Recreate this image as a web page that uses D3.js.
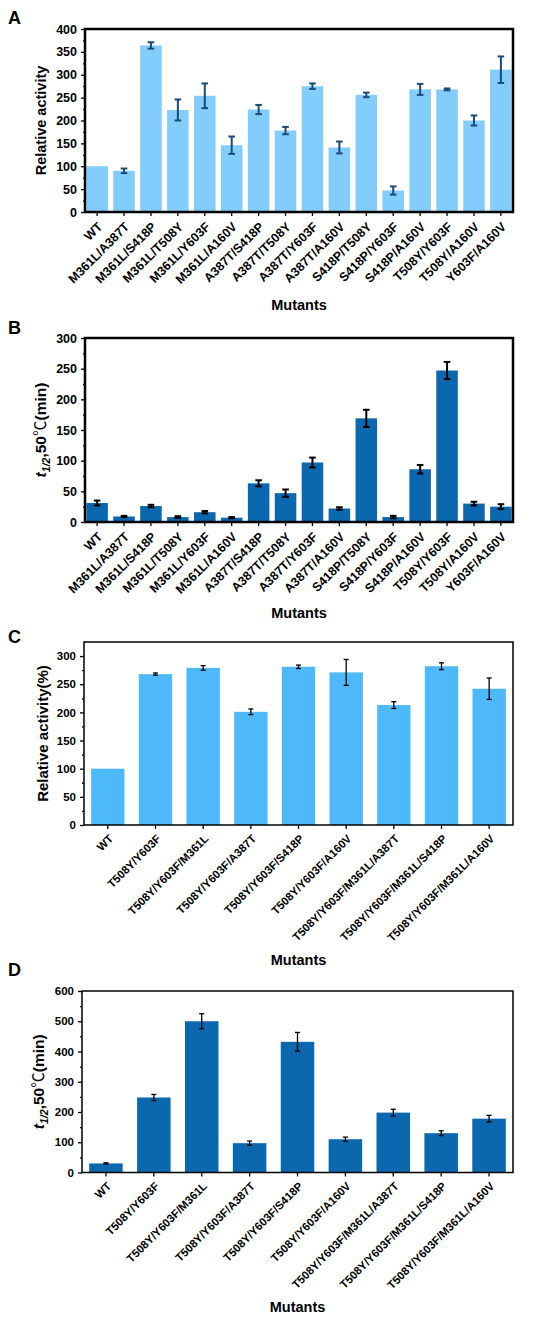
<!DOCTYPE html>
<html>
<head>
<meta charset="utf-8">
<script src="https://cdn.jsdelivr.net/npm/d3@7"></script>
<style>
  body { margin: 0; background: #fff; }
  svg text { font-family: "Liberation Sans", Arial, sans-serif; font-weight: bold; }
</style>
</head>
<body>
<svg id="chart" width="550" height="1319"></svg>
<script>
// ---- data ----
var doubleMutants = ['WT', 'M361L/A387T', 'M361L/S418P', 'M361L/T508Y', 'M361L/Y603F', 'M361L/A160V',
  'A387T/S418P', 'A387T/T508Y', 'A387T/Y603F', 'A387T/A160V', 'S418P/T508Y', 'S418P/Y603F',
  'S418P/A160V', 'T508Y/Y603F', 'T508Y/A160V', 'Y603F/A160V'];
var activityA = [100, 90, 364, 223, 254, 146, 224, 178, 275, 141, 256, 47, 268, 268, 200, 311];
var activityAErr = [0, 5, 7, 23, 27, 19, 10, 8, 6, 13, 5, 9, 12, 2, 11, 29];
var halfLifeB = [31, 9, 26, 8, 16, 7, 63, 47, 97, 22, 169, 8, 86, 247, 30, 25];
var halfLifeBErr = [4, 1, 2, 1.5, 2, 1, 5, 6, 8, 2, 14, 2, 7, 14, 3, 4];

var comboMutants = ['WT', 'T508Y/Y603F', 'T508Y/Y603F/M361L', 'T508Y/Y603F/A387T', 'T508Y/Y603F/S418P',
  'T508Y/Y603F/A160V', 'T508Y/Y603F/M361L/A387T', 'T508Y/Y603F/M361L/S418P', 'T508Y/Y603F/M361L/A160V'];
var activityC = [100, 268, 279, 201, 281, 271, 213, 282, 242];
var activityCErr = [0, 2, 4, 5, 3, 23, 6, 6, 19];
var halfLifeD = [30, 248, 500, 97, 432, 110, 198, 130, 178];
var halfLifeDErr = [2, 10, 25, 7, 31, 7, 11, 8, 11];

var svg = d3.select('#chart');

function drawPanel(p) {
  var g = svg.append('g');

  var x = d3.scaleBand()
    .domain(p.cats)
    .range([p.left, p.right])
    .paddingInner(p.padIn)
    .paddingOuter(p.padOut);

  var y = d3.scaleLinear()
    .domain([0, p.ymax])
    .range([p.bottom, p.top]);

  // bars
  g.selectAll('rect.bar')
    .data(p.values)
    .enter()
    .append('rect')
    .attr('class', 'bar')
    .attr('x', function(d, i) { return x(p.cats[i]); })
    .attr('width', x.bandwidth())
    .attr('y', function(d) { return y(d); })
    .attr('height', function(d) { return y(0) - y(d); })
    .style('fill', p.barColor);

  // error bars
  var eb = g.selectAll('g.err')
    .data(p.values)
    .enter()
    .append('g')
    .attr('class', 'err')
    .style('stroke', p.errColor)
    .style('stroke-width', p.errWidth)
    .style('display', function(d, i) { return p.errs[i] > 0 ? null : 'none'; });

  function cx(i) { return x(p.cats[i]) + x.bandwidth() / 2; }

  eb.append('line')
    .attr('x1', function(d, i) { return cx(i); })
    .attr('x2', function(d, i) { return cx(i); })
    .attr('y1', function(d, i) { return y(d - p.errs[i]); })
    .attr('y2', function(d, i) { return y(d + p.errs[i]); });
  [-1, 1].forEach(function(s) {
    eb.append('line')
      .attr('x1', function(d, i) { return cx(i) - p.cap; })
      .attr('x2', function(d, i) { return cx(i) + p.cap; })
      .attr('y1', function(d, i) { return y(d + s * p.errs[i]); })
      .attr('y2', function(d, i) { return y(d + s * p.errs[i]); });
  });

  // y axis, major + minor ticks
  var yAxis = g.append('g')
    .attr('transform', 'translate(' + p.left + ',0)')
    .call(d3.axisLeft(y).tickValues(d3.range(0, p.ymaxTick + 1, p.step)).tickSize(4).tickSizeOuter(0));
  g.append('g')
    .attr('transform', 'translate(' + p.left + ',0)')
    .call(d3.axisLeft(y).tickValues(d3.range(p.step / 2, p.ymax, p.step)).tickSize(2).tickFormat('').tickSizeOuter(0));

  // x axis
  var xAxis = g.append('g')
    .attr('transform', 'translate(0,' + p.bottom + ')')
    .call(d3.axisBottom(x).tickSize(4).tickSizeOuter(0));

  g.selectAll('.domain').remove();
  g.selectAll('.tick line').style('stroke', '#000').style('stroke-width', 1.3);
  yAxis.selectAll('text').style('font-size', p.yFont + 'px').attr('dx', '-1').style('fill', '#000');
  xAxis.selectAll('text')
    .style('font-size', p.xFont + 'px')
    .style('fill', '#000')
    .attr('text-anchor', 'end')
    .attr('y', 0)
    .attr('dy', 0)
    .attr('transform', 'translate(6,' + (p.xFont + 3) + ') rotate(-45)');

  // frame
  g.append('rect')
    .attr('x', p.left)
    .attr('y', p.top)
    .attr('width', p.right - p.left)
    .attr('height', p.bottom - p.top)
    .style('fill', 'none')
    .style('stroke', '#000')
    .style('stroke-width', p.frame);

  // panel letter
  g.append('text')
    .attr('x', 8)
    .attr('y', p.letterY)
    .style('font-size', '18px')
    .text(p.letter);

  // y title
  var yt = g.append('text')
    .attr('transform', 'translate(' + p.yTitleX + ',' + ((p.top + p.bottom) / 2) + ') rotate(-90)')
    .attr('text-anchor', 'middle')
    .style('font-size', p.yTitleFont + 'px');
  if (p.halfLife) {
    yt.append('tspan').style('font-style', 'italic').text('t');
    yt.append('tspan').attr('dy', 4).style('font-size', '10.5px').style('font-style', 'italic').text('1/2');
    yt.append('tspan').attr('dy', -4).text(',50');
    yt.append('tspan')
      .style('font-weight', 'normal')
      .style('font-family', '"Noto Sans CJK SC", "DejaVu Sans", sans-serif')
      .text('\u2103');
    yt.append('tspan').text('(min)');
  } else {
    yt.text(p.yTitle);
  }

  // x title
  g.append('text')
    .attr('x', (p.left + p.right) / 2)
    .attr('y', p.xTitleY)
    .attr('text-anchor', 'middle')
    .style('font-size', '14.5px')
    .text('Mutants');
}

drawPanel({
  letter: 'A', letterY: 24, cats: doubleMutants, values: activityA, errs: activityAErr,
  left: 85, right: 513, top: 29, bottom: 212, ymax: 400, ymaxTick: 400, step: 50,
  padIn: 0.2, padOut: 0.05, barColor: '#82CDFC', errColor: '#1B4B78', errWidth: 2, cap: 3.3,
  frame: 2.5, yFont: 12.5, xFont: 12.5, yTitleX: 46, yTitleFont: 14.5, yTitle: 'Relative activity', xTitleY: 310
});

drawPanel({
  letter: 'B', letterY: 334, cats: doubleMutants, values: halfLifeB, errs: halfLifeBErr,
  left: 85, right: 513, top: 338, bottom: 522, ymax: 300, ymaxTick: 300, step: 50,
  padIn: 0.2, padOut: 0.05, barColor: '#0B68AE', errColor: '#000', errWidth: 2, cap: 3.3,
  frame: 2.5, yFont: 12.5, xFont: 12.5, yTitleX: 46, yTitleFont: 15.5, halfLife: true, xTitleY: 618
});

drawPanel({
  letter: 'C', letterY: 643, cats: comboMutants, values: activityC, errs: activityCErr,
  left: 84, right: 513, top: 642, bottom: 825, ymax: 325, ymaxTick: 300, step: 50,
  padIn: 0.3, padOut: 0.15, barColor: '#4DB9FB', errColor: '#000', errWidth: 1.3, cap: 2.5,
  frame: 1.5, yFont: 11.5, xFont: 11.3, yTitleX: 48, yTitleFont: 15, yTitle: 'Relative activity(%)', xTitleY: 965
});

drawPanel({
  letter: 'D', letterY: 976, cats: comboMutants, values: halfLifeD, errs: halfLifeDErr,
  left: 82, right: 513, top: 991, bottom: 1172.5, ymax: 600, ymaxTick: 600, step: 100,
  padIn: 0.3, padOut: 0.15, barColor: '#0B68AE', errColor: '#000', errWidth: 1.3, cap: 2.5,
  frame: 1.5, yFont: 11.5, xFont: 11.3, yTitleX: 44, yTitleFont: 15.5, halfLife: true, xTitleY: 1312
});
</script>
</body>
</html>
